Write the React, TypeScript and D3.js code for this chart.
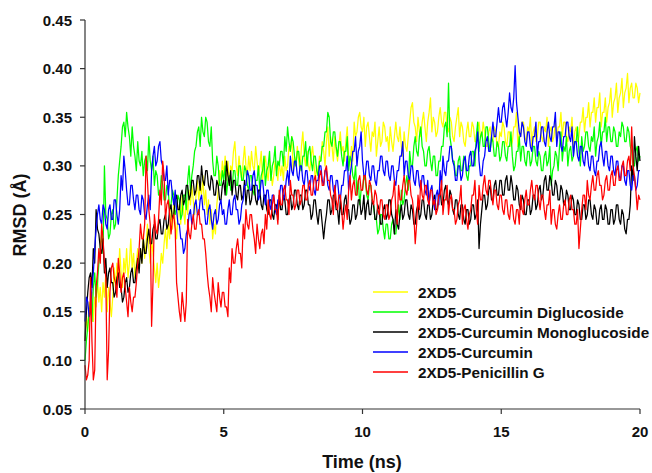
import React from "react";
import * as d3 from "d3";

// time axis: 0 .. 20 ns, one sample every 0.05 ns; RMSD values in milli-Ångström
const timeStepNs = 0.05;

const yellow2XD5 = [
  120,145,130,160,150,170,140,165,155,185,160,175,150,180,165,190,150,175,160,145,
  165,195,175,200,185,215,190,175,205,190,215,185,200,225,195,210,185,200,215,195,
  215,200,230,205,220,240,215,200,225,210,195,180,200,175,190,210,200,220,235,215,
  240,225,255,235,265,240,225,250,260,240,270,255,240,265,250,275,260,280,265,250,
  270,285,265,280,270,290,260,275,250,265,240,255,225,240,230,260,275,295,285,305,
  290,310,285,305,280,300,295,315,325,300,290,310,295,285,305,320,300,290,310,295,
  315,300,295,320,305,290,300,315,285,300,310,295,285,305,295,280,290,305,295,285,
  305,290,300,285,310,295,300,320,315,330,295,310,300,320,305,295,320,335,310,300,
  315,300,295,310,320,305,285,300,290,310,305,325,315,300,325,340,310,330,320,305,
  330,315,305,320,335,315,320,305,325,340,310,300,320,305,345,330,335,350,355,340,
  335,350,320,340,345,330,315,335,330,345,310,325,340,320,325,345,340,325,330,315,
  340,325,315,330,345,330,325,340,320,310,335,320,315,330,345,360,365,345,340,325,
  350,335,330,345,355,340,325,345,355,370,335,350,345,330,335,350,360,345,340,355,
  355,340,335,350,345,330,325,340,350,360,330,345,340,325,320,335,345,330,330,345,
  340,325,325,340,345,330,330,345,335,320,320,335,340,325,325,340,335,320,320,335,
  330,345,340,325,320,335,335,320,325,340,340,355,320,335,330,345,345,330,325,340,
  335,350,320,335,340,325,330,345,345,330,325,340,335,350,320,335,340,325,330,345,
  325,340,340,355,330,345,345,330,325,340,335,350,320,335,340,325,330,345,345,360,
  335,350,350,365,340,355,355,370,345,360,360,375,340,355,355,370,345,360,365,380,
  350,365,370,385,355,370,375,390,360,375,380,395,365,380,385,370,370,385,380,365,
  375,
];

const greenDiglucoside = [
  100,120,135,150,160,140,175,190,165,180,200,215,230,210,300,250,245,225,230,250,
  255,235,240,265,290,305,320,340,345,330,355,340,330,310,340,320,310,295,325,305,
  300,315,290,305,310,295,330,305,295,310,280,295,290,270,270,290,280,265,265,280,
  275,255,260,275,270,250,255,270,265,245,250,270,270,255,285,300,275,290,300,315,
  320,335,340,320,350,335,330,350,345,325,320,340,305,290,290,310,300,280,280,295,
  285,300,270,285,290,275,275,295,295,280,280,300,300,285,285,300,295,280,275,290,
  290,275,270,285,285,300,275,290,295,310,280,295,300,315,285,300,305,320,290,305,
  300,315,315,300,330,315,340,325,315,330,325,310,300,315,315,300,295,310,310,325,
  300,315,320,305,295,310,310,295,290,305,305,320,320,335,335,355,350,325,320,335,
  335,320,310,325,325,310,300,315,315,330,295,310,305,290,285,300,270,285,260,275,
  275,290,285,270,265,280,280,265,260,245,245,230,235,250,250,235,225,240,240,225,
  225,240,245,230,230,245,260,245,275,260,265,280,290,275,315,300,300,320,330,315,
  310,330,340,320,315,300,300,315,320,305,295,310,310,290,290,305,305,320,320,340,
  345,330,385,330,320,305,305,290,290,305,310,295,295,310,305,290,285,300,300,315,
  315,300,330,345,315,330,335,320,320,340,340,325,315,330,325,310,310,325,320,305,
  310,325,325,310,305,320,320,335,310,295,300,315,315,330,305,320,320,305,300,315,
  315,300,305,320,320,305,300,315,310,295,295,310,315,300,305,320,280,295,300,315,
  310,295,320,335,305,320,315,330,300,315,320,305,310,325,325,340,315,300,330,315,
  320,335,335,320,315,330,325,340,310,325,330,345,320,335,335,350,325,340,340,325,
  325,340,335,320,320,335,330,345,340,325,325,340,335,320,315,300,300,315,320,305,
  310,
];

const blackMonoglucoside = [
  120,150,170,185,190,175,215,200,255,235,230,215,210,225,190,205,175,190,195,180,
  180,165,170,185,190,175,175,160,165,180,185,170,175,190,195,180,180,195,205,190,
  215,200,225,210,210,225,235,220,220,235,240,225,225,240,245,230,230,245,250,235,
  240,255,260,245,250,265,270,255,255,270,275,260,265,280,280,265,270,285,285,270,
  275,290,290,275,300,285,280,295,295,280,275,290,285,270,270,285,280,265,265,280,
  285,270,305,290,280,295,270,285,285,270,265,280,280,265,270,285,260,275,275,260,
  265,280,280,265,260,275,275,260,255,270,270,255,250,265,265,250,245,260,260,245,
  270,255,255,270,265,250,250,265,270,255,260,275,275,260,255,270,270,255,260,275,
  275,260,260,245,250,265,265,250,240,255,255,240,225,240,250,265,265,250,255,270,
  270,255,255,240,265,250,250,265,270,255,255,240,245,260,260,245,250,265,265,250,
  255,270,245,260,265,250,250,265,260,245,245,260,255,240,240,255,260,245,250,265,
  265,250,245,230,255,240,235,250,260,245,250,265,265,250,245,260,255,240,240,255,
  260,245,250,265,265,250,245,260,260,245,250,265,270,255,255,270,275,260,260,275,
  280,265,260,275,270,255,250,265,265,250,245,260,260,245,240,255,255,240,245,260,
  260,245,250,265,215,240,255,270,270,255,260,275,280,265,265,280,285,270,270,285,
  285,270,270,285,290,275,275,290,280,265,265,280,275,260,255,270,265,250,250,265,
  265,250,255,270,270,255,260,275,280,265,270,285,290,275,275,290,285,270,270,285,
  280,265,265,280,275,260,260,275,270,255,255,270,265,250,250,265,260,245,245,260,
  260,245,250,265,265,250,245,260,255,240,240,255,260,245,245,260,255,240,240,255,
  255,240,245,260,260,245,240,255,250,235,230,245,245,260,300,285,330,310,295,320,
  305,
];

const blueCurcumin = [
  140,165,160,145,150,175,190,215,235,250,260,245,240,260,255,240,235,255,260,245,
  245,265,265,250,240,255,290,275,310,295,275,260,260,280,280,265,255,270,270,255,
  250,270,265,250,245,260,270,255,295,310,320,300,305,320,325,305,300,285,285,300,
  270,285,285,270,260,275,255,240,240,225,225,210,215,230,235,250,255,240,245,260,
  265,250,250,265,270,255,255,240,240,255,260,245,235,250,255,240,245,260,265,250,
  255,240,240,255,265,250,250,265,270,255,255,240,245,260,265,280,280,295,290,275,
  275,290,295,280,280,265,270,285,285,270,260,275,275,260,255,270,270,255,250,265,
  265,280,280,265,270,285,295,280,310,295,290,305,305,290,285,300,300,285,280,295,
  295,280,275,290,290,275,270,285,285,300,300,285,280,295,295,280,275,290,290,275,
  270,285,285,270,265,280,280,295,295,310,275,290,300,315,315,330,300,315,320,335,
  305,290,290,305,305,290,285,300,300,285,280,295,295,310,310,295,290,305,305,290,
  285,300,300,285,280,295,295,310,310,325,290,305,305,290,285,300,300,285,280,295,
  295,280,275,290,290,275,270,285,260,275,280,265,255,270,275,260,295,280,310,295,
  290,305,305,320,320,305,300,285,285,300,300,285,290,305,310,295,295,310,315,300,
  300,315,320,335,305,290,290,305,310,325,330,315,315,330,345,330,330,345,360,345,
  345,360,365,350,340,355,375,360,355,370,403,365,350,335,330,345,340,325,320,335,
  335,320,315,330,330,345,310,325,325,340,340,325,320,335,345,330,325,340,340,355,
  320,335,335,320,315,330,330,345,345,330,325,340,310,325,325,310,305,320,320,305,
  300,315,315,300,295,310,310,295,290,305,305,320,325,310,300,315,315,300,295,310,
  310,295,290,305,305,290,285,300,300,285,280,295,295,280,275,290,290,275,280,295,
  295,
];

const redPenicillinG = [
  95,80,85,100,185,120,80,90,175,190,215,200,240,225,200,185,80,110,170,195,
  200,185,180,165,205,190,170,185,190,175,160,145,175,160,150,165,165,180,200,215,
  240,225,225,240,310,285,255,240,135,180,250,235,230,245,275,260,305,290,245,260,
  265,250,230,245,250,235,180,165,150,140,170,155,140,160,245,230,225,240,250,235,
  235,250,255,240,240,225,225,210,190,175,165,150,185,170,160,150,180,165,155,170,
  170,155,155,145,195,180,215,200,200,215,225,210,210,195,240,225,255,240,235,250,
  250,235,225,210,240,225,215,230,235,220,250,235,265,250,245,260,270,255,255,240,
  275,260,260,275,280,265,265,250,285,270,270,255,260,275,275,260,265,280,280,265,
  265,280,285,270,270,285,290,275,275,290,295,280,280,295,300,285,285,270,265,250,
  280,265,255,270,270,255,235,250,260,245,275,290,265,280,285,270,270,285,290,275,
  275,290,290,275,270,285,280,265,260,275,270,255,250,265,265,250,245,260,260,245,
  250,265,270,285,255,240,280,265,265,280,290,275,270,285,285,270,265,250,220,240,
  270,255,285,270,265,280,280,265,260,275,275,260,265,250,255,270,270,285,250,265,
  265,280,250,265,270,255,255,240,245,260,265,280,240,255,260,245,235,250,255,270,
  270,285,255,240,280,265,265,280,290,275,270,285,285,270,260,275,275,260,255,270,
  270,255,250,265,265,250,245,260,260,245,240,255,255,240,270,255,250,265,275,260,
  260,275,285,270,265,280,280,265,255,270,270,255,245,260,260,275,240,255,255,240,
  235,250,260,245,245,260,265,250,250,265,270,255,255,240,240,255,215,235,255,270,
  270,255,285,270,265,280,290,275,275,290,295,280,280,265,270,285,290,275,275,290,
  295,280,280,295,300,285,285,300,305,290,290,305,310,295,340,300,290,275,255,270,
  265,
];

const seriesNames = [
  "2XD5",
  "2XD5-Curcumin Diglucoside",
  "2XD5-Curcumin Monoglucoside",
  "2XD5-Curcumin",
  "2XD5-Penicillin G",
];
const seriesColors = ["#ffff00", "#00ff00", "#000000", "#0000ff", "#ff0000"];
const seriesValues = [yellow2XD5, greenDiglucoside, blackMonoglucoside, blueCurcumin, redPenicillinG];

const xTicks = [0, 5, 10, 15, 20];
const yTicks = [0.05, 0.1, 0.15, 0.2, 0.25, 0.3, 0.35, 0.4, 0.45];

const W = 652;
const H = 473;
const FONT = "'Liberation Sans', Arial, Helvetica, sans-serif";

export default function App() {
  const x = d3.scaleLinear().domain([0, 20]).range([85, 640]);
  const y = d3.scaleLinear().domain([0.05, 0.45]).range([409, 20]);
  const line = d3
    .line<number>()
    .x((_, i) => x(i * timeStepNs))
    .y((d) => y(d / 1000));

  const axisColor = "#333";
  const legendX = 373;
  const legendY0 = 292;
  const legendDy = 20;

  return (
    <svg
      width={W}
      height={H}
      style={{ position: "absolute", left: 0, top: 0, background: "#fff" }}
      fontFamily={FONT}
    >
      <rect x={0} y={0} width={W} height={H} fill="#fff" />
      {seriesValues.map((vals, k) => (
        <path
          key={seriesNames[k]}
          d={line(vals) || ""}
          fill="none"
          stroke={seriesColors[k]}
          strokeWidth={1.25}
          strokeLinejoin="round"
        />
      ))}

      {/* y axis */}
      <line x1={85} x2={85} y1={y(0.45)} y2={y(0.05)} stroke={axisColor} strokeWidth={1.2} />
      {yTicks.map((t) => (
        <g key={"y" + t}>
          <line x1={80} x2={85} y1={y(t)} y2={y(t)} stroke={axisColor} strokeWidth={1.2} />
          <text
            x={72}
            y={y(t)}
            textAnchor="end"
            dominantBaseline="central"
            fontSize={15}
            fontWeight="bold"
            fill="#111"
          >
            {t.toFixed(2)}
          </text>
        </g>
      ))}

      {/* x axis */}
      <line x1={85} x2={640} y1={409} y2={409} stroke={axisColor} strokeWidth={1.2} />
      {xTicks.map((t) => (
        <g key={"x" + t}>
          <line x1={x(t)} x2={x(t)} y1={409} y2={414} stroke={axisColor} strokeWidth={1.2} />
          <text x={x(t)} y={437} textAnchor="middle" fontSize={15} fontWeight="bold" fill="#111">
            {t}
          </text>
        </g>
      ))}

      <text x={362} y={468} textAnchor="middle" fontSize={18} fontWeight="bold" fill="#111">
        Time (ns)
      </text>
      <text
        transform={`translate(26,215) rotate(-90)`}
        textAnchor="middle"
        fontSize={18}
        fontWeight="bold"
        fill="#111"
      >
        RMSD (Å)
      </text>

      {/* legend */}
      {seriesNames.map((name, k) => (
        <g key={"lg" + name}>
          <line
            x1={legendX}
            x2={legendX + 35}
            y1={legendY0 + k * legendDy}
            y2={legendY0 + k * legendDy}
            stroke={seriesColors[k]}
            strokeWidth={1.5}
          />
          <text
            x={418}
            y={legendY0 + k * legendDy}
            dominantBaseline="central"
            fontSize={15.3}
            fontWeight="bold"
            fill="#111"
          >
            {name}
          </text>
        </g>
      ))}
    </svg>
  );
}
